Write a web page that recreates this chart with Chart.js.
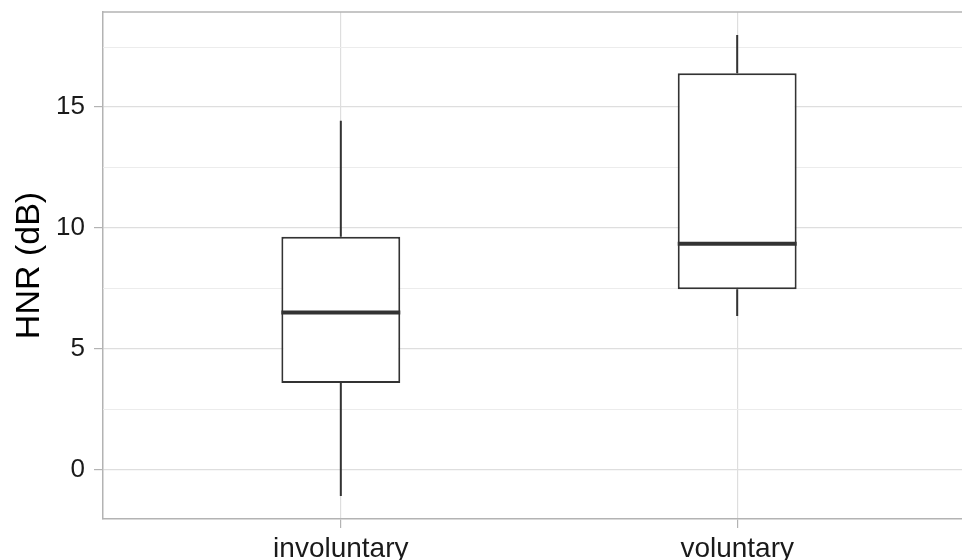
<!DOCTYPE html>
<html>
<head>
<meta charset="utf-8">
<script src="https://cdn.jsdelivr.net/npm/chart.js@4"></script>
<style>
  html, body { margin: 0; padding: 0; background: #fff; overflow: hidden; }
  #wrap { width: 1000px; height: 560px; position: relative; }
</style>
</head>
<body>
<div id="wrap"><canvas id="chart"></canvas></div>
<script>
// box plot summary per group (HNR in dB)
const categories = ['involuntary', 'voluntary'];
const lowerWhisker = [-1.09, 6.36];
const q1 = [3.58, 7.46];
const median = [6.50, 9.34];
const q3 = [9.63, 16.40];
const upperWhisker = [14.43, 17.98];

const yMajorTicks = [0, 5, 10, 15];
const yMinorTicks = [2.5, 7.5, 12.5, 17.5];

// ggplot-style 5% expansion of the range
const lo = Math.min(...lowerWhisker), hi = Math.max(...upperWhisker);
const pad = (hi - lo) * 0.05;

const boxStroke = '#333333';
const borderGrey = '#b3b3b3';

const panelPlugin = {
    id: 'panel',
    beforeDatasetsDraw(chart) {
        // minor horizontal grid lines
        const ctx = chart.ctx, a = chart.chartArea, y = chart.scales.y;
        ctx.save();
        ctx.strokeStyle = '#ececec';
        ctx.lineWidth = 1;
        yMinorTicks.forEach(v => {
            const py = Math.round(y.getPixelForValue(v)) + 0.5;
            ctx.beginPath();
            ctx.moveTo(a.left, py);
            ctx.lineTo(a.right, py);
            ctx.stroke();
        });
        ctx.restore();
    },
    afterDatasetsDraw(chart) {
        const ctx = chart.ctx;
        const x = chart.scales.x, y = chart.scales.y;
        const bars = chart.getDatasetMeta(0).data;
        ctx.save();
        ctx.strokeStyle = boxStroke;
        ctx.lineCap = 'butt';
        categories.forEach((c, i) => {
            const px = x.getPixelForValue(i + 1);
            ctx.lineWidth = 2;
            ctx.beginPath();
            ctx.moveTo(px, y.getPixelForValue(q3[i]));
            ctx.lineTo(px, y.getPixelForValue(upperWhisker[i]));
            ctx.moveTo(px, y.getPixelForValue(q1[i]));
            ctx.lineTo(px, y.getPixelForValue(lowerWhisker[i]));
            ctx.stroke();
            const w = bars[i].width;
            ctx.lineWidth = 4;
            ctx.beginPath();
            ctx.moveTo(px - w / 2, y.getPixelForValue(median[i]));
            ctx.lineTo(px + w / 2, y.getPixelForValue(median[i]));
            ctx.stroke();
        });
        // top edge of the panel
        const a = chart.chartArea;
        ctx.strokeStyle = borderGrey;
        ctx.lineWidth = 1.5;
        ctx.beginPath();
        ctx.moveTo(a.left, a.top);
        ctx.lineTo(a.right, a.top);
        ctx.stroke();
        ctx.restore();
    }
};

new Chart(document.getElementById('chart'), {
    type: 'bar',
    data: {
        datasets: [{
            data: categories.map((c, i) => ({ x: i + 1, y: [q1[i], q3[i]] })),
            backgroundColor: '#ffffff',
            borderColor: boxStroke,
            borderWidth: 2,
            borderSkipped: false,
            barPercentage: 0.3,
            categoryPercentage: 1
        }]
    },
    options: {
        responsive: true,
        maintainAspectRatio: false,
        animation: false,
        layout: { padding: { top: 12, right: 25, left: 0, bottom: 0 } },
        plugins: { legend: { display: false }, tooltip: { enabled: false } },
        scales: {
            x: {
                type: 'linear',
                min: 0.4,
                max: 2.6,
                offset: false,
                afterBuildTicks(axis) {
                    axis.ticks = categories.map((c, i) => ({ value: i + 1 }));
                },
                afterFit(axis) { axis.height = 41; axis.paddingLeft = 0; axis.paddingRight = 0; },
                ticks: {
                    callback: v => categories[v - 1],
                    color: '#1a1a1a',
                    font: { family: 'Liberation Sans, Arial, sans-serif', size: 28 },
                    padding: 4,
                    maxRotation: 0,
                    autoSkip: false
                },
                grid: { offset: false, color: '#dedede', lineWidth: 1.2, tickColor: borderGrey, tickLength: 9 },
                border: { color: borderGrey, width: 1.5 }
            },
            y: {
                min: lo - pad,
                max: hi + pad,
                afterBuildTicks(axis) {
                    axis.ticks = yMajorTicks.map(v => ({ value: v }));
                },
                afterFit(axis) { axis.width = 103; axis.paddingTop = 0; axis.paddingBottom = 0; },
                ticks: {
                    callback: v => String(v),
                    color: '#1a1a1a',
                    font: { family: 'Liberation Sans, Arial, sans-serif', size: 26 },
                    padding: 9
                },
                grid: { color: '#dedede', lineWidth: 1.2, tickColor: borderGrey, tickLength: 9 },
                border: { color: borderGrey, width: 1.5 },
                title: {
                    display: true,
                    text: 'HNR (dB)',
                    color: '#000000',
                    font: { family: 'Liberation Sans, Arial, sans-serif', size: 34 },
                    padding: { top: 9, bottom: 0 }
                }
            }
        }
    },
    plugins: [panelPlugin]
});
</script>
</body>
</html>
